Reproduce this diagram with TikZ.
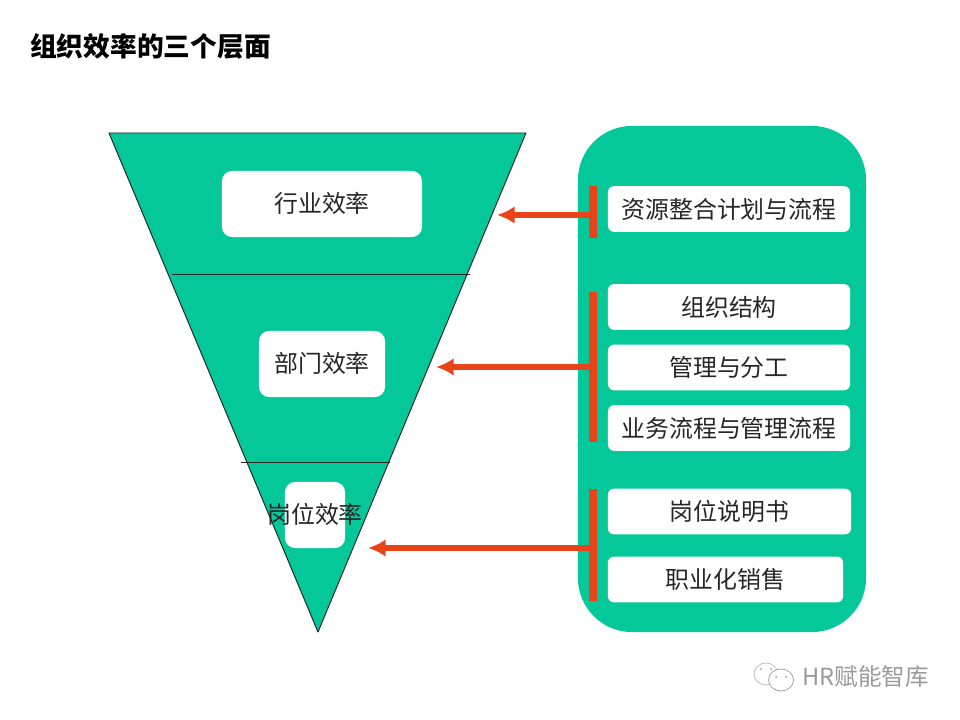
\documentclass[tikz,border=0pt]{standalone}
\usepackage{fontspec}
\setmainfont{Noto Sans CJK SC}
\usetikzlibrary{arrows.meta}
\definecolor{panelgreen}{HTML}{05C89A}
\definecolor{arrowred}{HTML}{E8441A}
\definecolor{markgray}{HTML}{9A9A9A}
\begin{document}
\begin{tikzpicture}[
  x=0.025cm, y=-0.025cm,
  whitebox/.style={fill=white, rounded corners=2.5mm, inner sep=0pt},
  listbox/.style={fill=white, rounded corners=1.5mm, inner sep=0pt, font=\fontsize{17}{19}\selectfont, text=black!85},
  label/.style={inner sep=0pt, font=\fontsize{17}{19}\selectfont, text=black!85},
  bar/.style={fill=arrowred, inner sep=0pt, minimum width=0.19cm},
  pointer/.style={draw=arrowred, line width=1.4mm, -{Latex[length=4.4mm,width=4.4mm]}}
]
\useasboundingbox (0,0) rectangle (960,720);
\node[anchor=west, inner sep=0pt, font=\fontsize{19}{21}\selectfont\bfseries] (title) at (30,46) {组织效率的三个层面};
% funnel
\coordinate (topleft) at (109,133);
\coordinate (topright) at (526,133);
\coordinate (tip) at (318,632);
\fill[panelgreen] (topleft) -- (topright) -- (tip) -- cycle;
\draw[black!85, line width=0.7pt, line join=round] (topleft) -- (topright) -- (tip) -- cycle;
\coordinate (upperleft) at (172,274);
\coordinate (upperright) at (470,274);
\coordinate (lowerleft) at (241,462);
\coordinate (lowerright) at (390,462);
\draw[black!85, line width=0.7pt] (upperleft) -- (upperright);
\draw[black!85, line width=0.7pt] (lowerleft) -- (lowerright);
\node[whitebox, minimum width=5cm, minimum height=1.65cm] (industry) at (322,204) {};
\node[whitebox, minimum width=3.15cm, minimum height=1.65cm] (dept) at (322,364) {};
\node[whitebox, minimum width=1.5cm, minimum height=1.65cm] (post) at (315,515) {};
\node[label] at (322,203) {行业效率};
\node[label] at (322,363) {部门效率};
\node[label] at (315,514) {岗位效率};
% right panel
\node[fill=panelgreen, rounded corners=1.35cm, inner sep=0pt, minimum width=7.2cm, minimum height=12.65cm] (panel) at (722,379) {};
\foreach \n/\y/\w/\cx/\t in {plan/209/6.05cm/729/资源整合计划与流程, org/307/6.05cm/729/组织结构, duty/367.5/6.05cm/729/管理与分工, flow/428/6.05cm/729/业务流程与管理流程, desc/511.5/6.08cm/729.5/岗位说明书, sales/579.5/5.88cm/725.5/职业化销售} {
  \node[listbox, minimum width=\w, minimum height=1.14cm] (\n) at (\cx,\y) {\t};
}
% bars and arrows
\node[bar, minimum height=1.3cm] (barone) at (593,212) {};
\node[bar, minimum height=3.75cm] (bartwo) at (593,367) {};
\node[bar, minimum height=2.8cm] (barthree) at (593,545) {};
\coordinate (endone) at (497,215);
\coordinate (endtwo) at (436,367);
\coordinate (endthree) at (368,548);
\draw[pointer] (barone.center |- endone) -- (endone);
\draw[pointer] (bartwo.center |- endtwo) -- (endtwo);
\draw[pointer] (barthree.center |- endthree) -- (endthree);
% watermark
\draw[markgray!70, line width=0.5pt, fill=white] (766,674) ellipse (12 and 11);
\draw[markgray, line width=0.5pt, fill=white] (781,680) ellipse (12.5 and 11);
\fill[markgray] (776,677) circle (1) (786,677) circle (1) (761,669) circle (1) (771,669) circle (1);
\node[anchor=west, inner sep=0pt, text=markgray, font=\fontsize{16.8}{18}\selectfont] (mark) at (802,677) {HR赋能智库};
\end{tikzpicture}
\end{document}
